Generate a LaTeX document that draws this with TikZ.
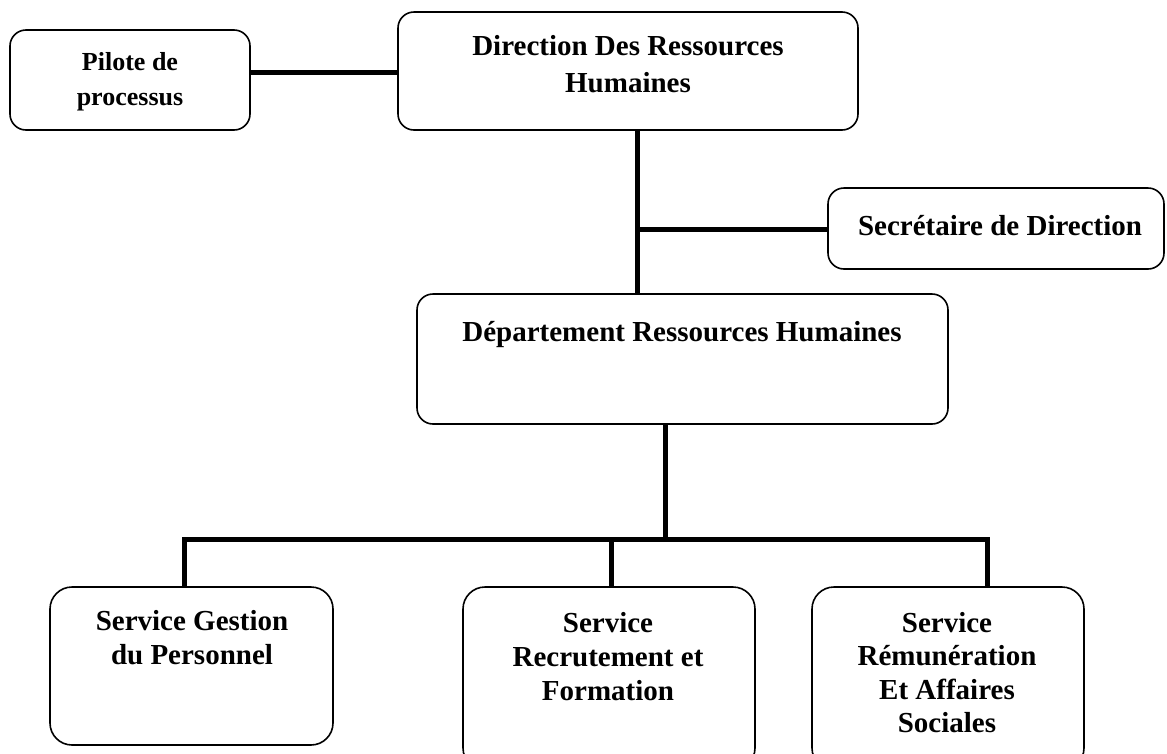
\documentclass[tikz,border=0pt]{standalone}
\usepackage{fontspec}
\setmainfont{Liberation Serif}
\begin{document}
\begin{tikzpicture}[x=1pt,y=-1pt,
  box/.style={draw, line width=1.6pt, rounded corners=16pt, inner sep=0pt, fill=white},
  bigbox/.style={box, rounded corners=22pt},
  conn/.style={line width=5pt},
  lbl/.style={font=\bfseries\fontsize{29}{34}\selectfont, align=center, inner sep=0pt, anchor=base}]
\useasboundingbox (0,0) rectangle (1167,753);
\clip (0,0) rectangle (1167,753);

% junction points of the connectors
\coordinate (pj) at (300,72);
\coordinate (spine) at (637,229);
\coordinate (busT) at (665,539);
\coordinate (busL) at (184,539);
\coordinate (busM) at (611,539);
\coordinate (busR) at (987,539);

% boxes
\node[box, minimum width=240pt, minimum height=100pt] (pil) at (130,80) {};
\node[box, minimum width=460pt, minimum height=118pt] (dir) at (628,71) {};
\node[box, minimum width=336pt, minimum height=81pt] (sec) at (996,228.5) {};
\node[box, minimum width=531pt, minimum height=130pt] (dept) at (682.5,359) {};
\node[bigbox, minimum width=283pt, minimum height=158pt] (gest) at (191.5,666) {};
\node[bigbox, minimum width=292pt, minimum height=183pt] (recr) at (609,678.5) {};
\node[bigbox, minimum width=272pt, minimum height=183pt] (rem) at (948,678.5) {};

% connectors
\draw[conn] (pil.east |- pj) -- (dir.west |- pj);
\draw[conn] (dir.south -| spine) -- (dept.north -| spine);
\draw[conn] (spine) -- (sec.west |- spine);
\draw[conn] (dept.south -| busT) -- (busT);
\draw[conn] (gest.north -| busL) -- (busL) -- (busR) -- (rem.north -| busR);
\draw[conn] (busM) -- (recr.north -| busM);

% labels (anchored at the baseline of their last line)
\node[lbl, font=\bfseries\fontsize{26}{35}\selectfont] (pilT) at (130,105) {Pilote de\\processus};
\node[lbl, font=\bfseries\fontsize{29}{37}\selectfont] (dirT) at (628,92) {Direction Des Ressources\\Humaines};
\node[lbl] (secT) at (1000,235) {Secrétaire de Direction};
\node[lbl] (deptT) at (682,341) {Département Ressources Humaines};
\node[lbl] (gestT) at (192,664) {Service Gestion\\du Personnel};
\node[lbl] (recrT) at (608,700) {Service\\Recrutement et\\Formation};
\node[lbl, font=\bfseries\fontsize{29}{33.5}\selectfont] (remT) at (947,732.5) {Service\\Rémunération\\Et Affaires\\Sociales};
\end{tikzpicture}
\end{document}
